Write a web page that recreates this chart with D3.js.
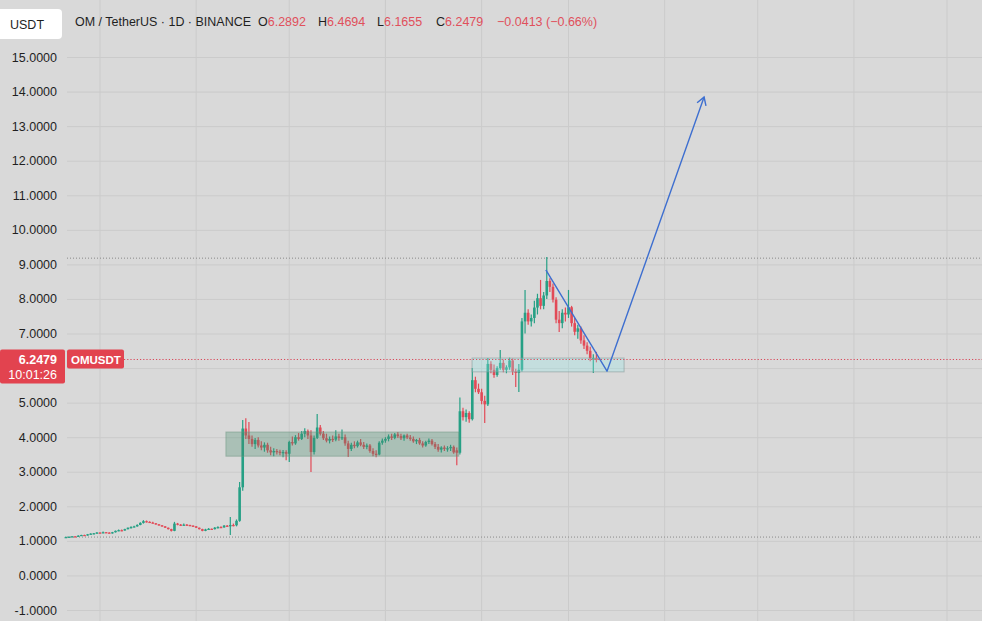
<!DOCTYPE html>
<html>
<head>
<meta charset="utf-8">
<script src="https://cdn.jsdelivr.net/npm/d3@7"></script>
<style>
  html, body { margin: 0; padding: 0; background: #d9d9d9; }
  svg { display: block; font-family: "Liberation Sans", Arial, sans-serif; }
</style>
</head>
<body>
<div id="chart"></div>
<script>
// OM / TetherUS daily candles, first one on firstDay, one row per day: [open, high, low, close]
const firstDay = "2024-09-20";
const candles = [
  // Sep 20
  [1.10,1.13,1.09,1.11],[1.11,1.13,1.10,1.12],[1.12,1.14,1.11,1.13],[1.13,1.14,1.11,1.12],[1.12,1.16,1.11,1.15],
  [1.15,1.18,1.14,1.17],[1.17,1.18,1.15,1.16],[1.16,1.20,1.15,1.19],[1.19,1.22,1.18,1.21],[1.21,1.23,1.19,1.22],
  // Sep 30
  [1.22,1.26,1.21,1.24],[1.24,1.25,1.22,1.23],[1.23,1.27,1.22,1.25],[1.25,1.26,1.23,1.24],[1.24,1.25,1.21,1.22],
  [1.22,1.26,1.21,1.25],[1.25,1.30,1.24,1.29],[1.29,1.33,1.28,1.31],[1.31,1.33,1.28,1.30],[1.30,1.35,1.29,1.34],
  // Oct 10
  [1.34,1.39,1.33,1.38],[1.38,1.42,1.36,1.40],[1.40,1.44,1.39,1.42],[1.42,1.48,1.41,1.46],[1.46,1.54,1.45,1.52],
  [1.52,1.60,1.50,1.57],[1.57,1.59,1.53,1.55],[1.55,1.57,1.52,1.53],[1.53,1.55,1.50,1.51],[1.51,1.52,1.47,1.48],
  // Oct 20
  [1.48,1.49,1.44,1.45],[1.45,1.46,1.41,1.42],[1.42,1.43,1.37,1.38],[1.38,1.39,1.33,1.34],[1.34,1.35,1.27,1.29],
  [1.29,1.55,1.28,1.50],[1.50,1.52,1.45,1.47],[1.47,1.49,1.43,1.45],[1.45,1.50,1.44,1.47],[1.47,1.49,1.44,1.46],
  // Oct 30
  [1.46,1.47,1.42,1.44],[1.44,1.45,1.40,1.42],[1.42,1.43,1.37,1.38],[1.38,1.39,1.33,1.34],[1.34,1.35,1.28,1.29],
  [1.29,1.35,1.28,1.33],[1.33,1.37,1.32,1.35],[1.35,1.36,1.32,1.34],[1.34,1.40,1.33,1.38],[1.38,1.42,1.36,1.40],
  // Nov 9
  [1.40,1.42,1.37,1.39],[1.39,1.46,1.38,1.44],[1.44,1.46,1.40,1.42],[1.42,1.69,1.17,1.46],[1.46,1.50,1.42,1.45],
  [1.45,1.62,1.42,1.58],[1.58,2.70,1.55,2.55],[2.55,4.50,2.45,4.25],[4.25,4.55,3.95,4.05],[4.05,4.44,3.80,3.95],
  // Nov 19
  [3.95,4.05,3.72,3.80],[3.80,3.98,3.66,3.92],[3.92,4.00,3.70,3.76],[3.76,3.88,3.62,3.70],[3.70,3.85,3.58,3.78],
  [3.78,3.84,3.55,3.62],[3.62,3.72,3.48,3.56],[3.56,3.68,3.45,3.60],[3.60,3.66,3.50,3.58],[3.58,3.64,3.48,3.55],
  // Nov 29
  [3.55,3.63,3.42,3.57],[3.57,3.62,3.33,3.52],[3.52,3.90,3.28,3.86],[3.86,4.02,3.76,3.82],[3.82,4.06,3.78,4.00],
  [4.00,4.12,3.90,3.95],[3.95,4.18,3.92,4.10],[4.10,4.26,4.00,4.18],[4.18,4.22,3.95,4.05],[4.05,4.20,2.99,3.57],
  // Dec 9
  [3.57,4.05,3.50,3.98],[3.98,4.67,3.95,4.28],[4.28,4.35,4.05,4.10],[4.10,4.18,3.92,3.97],[3.97,4.10,3.85,3.90],
  [3.90,4.02,3.82,3.95],[3.95,4.05,3.86,3.93],[3.93,4.20,3.88,4.02],[4.02,4.10,3.90,3.98],[3.98,4.22,3.92,4.00],
  // Dec 19
  [4.00,4.08,3.75,3.82],[3.82,3.90,3.43,3.66],[3.66,3.84,3.60,3.78],[3.78,3.88,3.68,3.74],[3.74,3.90,3.70,3.85],
  [3.85,3.95,3.74,3.78],[3.78,3.86,3.66,3.72],[3.72,3.82,3.65,3.76],[3.76,3.80,3.55,3.60],[3.60,3.68,3.45,3.52],
  // Dec 29
  [3.52,3.62,3.42,3.50],[3.50,3.88,3.48,3.84],[3.84,3.96,3.78,3.90],[3.90,4.00,3.84,3.95],[3.95,4.08,3.88,4.02],
  [4.02,4.10,3.92,3.98],[3.98,4.12,3.94,4.08],[4.08,4.15,3.98,4.03],[4.03,4.10,3.92,3.97],[3.97,4.08,3.90,4.05],
  // Jan 8
  [4.05,4.10,3.95,3.99],[3.99,4.06,3.90,3.95],[3.95,4.02,3.84,3.88],[3.88,3.95,3.80,3.92],[3.92,3.98,3.78,3.82],
  [3.82,3.88,3.70,3.76],[3.76,3.90,3.72,3.86],[3.86,3.96,3.80,3.90],[3.90,3.95,3.76,3.80],[3.80,3.86,3.66,3.72],
  // Jan 18
  [3.72,3.80,3.58,3.64],[3.64,3.74,3.56,3.70],[3.70,3.76,3.60,3.66],[3.66,3.74,3.58,3.68],[3.68,3.78,3.60,3.72],
  [3.72,3.76,3.52,3.56],[3.62,3.70,3.19,3.55],[3.55,5.15,3.50,4.75],[4.75,4.85,4.48,4.58],[4.58,4.80,4.45,4.70],
  // Jan 28
  [4.70,4.75,4.42,4.52],[4.52,6.00,4.48,5.65],[5.65,5.75,5.30,5.40],[5.40,5.55,5.25,5.30],[5.30,5.40,4.95,5.05],
  [5.05,5.20,4.41,4.95],[4.95,6.29,4.90,6.12],[6.12,6.20,5.85,5.95],[5.95,6.10,5.72,5.80],[5.80,6.05,5.75,6.00],
  // Feb 7
  [6.00,6.52,5.95,6.15],[6.15,6.25,5.88,5.95],[5.95,6.08,5.85,6.02],[6.02,6.30,5.95,6.22],[6.22,6.28,5.80,5.90],
  [5.90,5.98,5.45,5.86],[5.86,6.12,5.31,5.95],[5.95,7.45,5.90,7.35],[7.35,8.26,7.00,7.60],[7.60,7.70,7.25,7.35],
  // Feb 17
  [7.35,7.55,7.20,7.45],[7.45,7.95,7.30,7.75],[7.75,8.15,7.55,8.02],[8.02,8.55,7.70,7.80],[7.80,8.20,7.70,8.10],
  [8.10,9.21,8.00,8.52],[8.52,8.60,8.20,8.35],[8.35,8.45,7.90,7.98],[7.98,8.05,7.30,7.40],[7.40,7.65,7.04,7.30],
  // Feb 27
  [7.30,7.70,7.15,7.60],[7.60,7.75,7.35,7.55],[7.55,8.26,7.45,7.76],[7.76,7.80,7.20,7.30],[7.30,7.45,6.95,7.05],
  [7.05,7.25,6.85,7.15],[7.15,7.20,6.70,6.80],[6.80,6.95,6.55,6.65],[6.65,6.75,6.40,6.50],[6.50,6.62,6.20,6.28],
  // Mar 9
  [6.28,6.40,5.86,6.29],[6.2892,6.4694,6.1655,6.2479]
];

const priceTicks = [15, 14, 13, 12, 11, 10, 9, 8, 7, 6, 5, 4, 3, 2, 1, 0, -1];
const lastPrice = 6.2479;
const countdown = "10:01:26";
const symbol = "OMUSDT";
const headerTitle = "OM / TetherUS · 1D · BINANCE";
const headerQuote = [["O", "6.2892"], ["H", "6.4694"], ["L", "6.1655"], ["C", "6.2479"]];
const headerChange = "−0.0413 (−0.66%)";

// drawings on the chart: [date, price]
const levelLines = [9.18, 1.11];
const rangeBox = [["2024-11-10T14:00", 4.15], ["2025-01-24T16:00", 3.45]];
const supportBox = [["2025-01-28T22:00", 6.29], ["2025-03-18T22:00", 5.89]];
const projection = [["2025-02-21T17:00", 8.84], ["2025-03-13T10:00", 5.91], ["2025-04-13T17:00", 13.84]];


function CandleChart(data, {
  width = 982,
  height = 621,
  left = 67, // where the plot starts (axis labels sit left of it)
  up = "#26a085",
  down = "#e24a57",
  bg = "#d9d9d9",
  grid = "#cbcbcb",
} = {}) {
  const parse = d3.utcParse("%Y-%m-%d");
  const parseT = d3.utcParse("%Y-%m-%dT%H:%M");
  const day0 = parse(firstDay);
  const rows = data.map((d, i) => ({date: d3.utcDay.offset(day0, i), o: d[0], h: d[1], l: d[2], c: d[3]}));

  // one month is ~95px wide in the reference
  const x = d3.scaleUtc()
    .domain([new Date(Date.UTC(2024, 9, 1)), new Date(Date.UTC(2025, 6, 1))])
    .range([100, 947]);
  const y = d3.scaleLinear().domain([-1, 15]).range([610, 57]);
  const bw = 2.6; // body width

  const svg = d3.create("svg")
    .attr("width", width)
    .attr("height", height)
    .attr("viewBox", [0, 0, width, height]);

  svg.append("rect").attr("width", width).attr("height", height).attr("fill", bg);

  // month grid
  svg.append("g")
    .selectAll("line")
    .data(d3.utcMonth.range(x.invert(left), x.invert(width)))
    .join("line")
    .attr("x1", d => x(d)).attr("x2", d => x(d))
    .attr("y1", 0).attr("y2", height)
    .attr("stroke", grid);

  // price grid + labels
  const yAxis = svg.append("g")
    .attr("transform", `translate(${left},0)`)
    .call(d3.axisLeft(y).tickValues(priceTicks).tickSize(-(width - left)).tickPadding(10).tickFormat(d => d.toFixed(4)));
  yAxis.select(".domain").remove();
  yAxis.selectAll(".tick line").attr("stroke", grid);
  yAxis.selectAll(".tick text")
    .attr("fill", "#1f1f1f")
    .attr("font-size", 12.5)
    .attr("font-family", "Liberation Sans, Arial, sans-serif");
  // the label under the last-price tag is hidden
  yAxis.selectAll(".tick text").filter(d => Math.abs(y(d) - y(lastPrice)) < 14).remove();

  // horizontal levels
  svg.append("g")
    .selectAll("line")
    .data(levelLines)
    .join("line")
    .attr("x1", left).attr("x2", width)
    .attr("y1", d => y(d)).attr("y2", d => y(d))
    .attr("stroke", "#8a8a8a")
    .attr("stroke-dasharray", "1,2");

  // candles
  const g = svg.append("g");
  const candle = g.selectAll("g")
    .data(rows)
    .join("g")
    .attr("fill", d => d.c >= d.o ? up : down)
    .attr("stroke", d => d.c >= d.o ? up : down);
  candle.append("line")
    .attr("x1", d => x(d.date)).attr("x2", d => x(d.date))
    .attr("y1", d => y(d.h)).attr("y2", d => y(d.l))
    .attr("stroke-width", 1.2);
  candle.append("rect")
    .attr("x", d => x(d.date) - bw / 2)
    .attr("width", bw)
    .attr("y", d => y(Math.max(d.o, d.c)))
    .attr("height", d => Math.max(1.2, Math.abs(y(d.o) - y(d.c))))
    .attr("stroke", "none");

  // rectangles drawn over the candles
  const box = (b, fill, stroke) => svg.append("rect")
    .attr("x", x(parseT(b[0][0])))
    .attr("y", y(b[0][1]))
    .attr("width", x(parseT(b[1][0])) - x(parseT(b[0][0])))
    .attr("height", y(b[1][1]) - y(b[0][1]))
    .attr("fill", fill)
    .attr("stroke", stroke);
  box(rangeBox, "rgba(70,140,110,0.32)", "rgba(110,150,130,0.5)");
  box(supportBox, "rgba(150,235,235,0.3)", "rgba(130,150,150,0.55)");

  // current price line
  svg.append("line")
    .attr("x1", left + 57).attr("x2", width)
    .attr("y1", y(lastPrice)).attr("y2", y(lastPrice))
    .attr("stroke", "#d8485a")
    .attr("stroke-dasharray", "1.2,2");

  // projected path with an open arrow head
  const pts = projection.map(d => [x(parseT(d[0])), y(d[1])]);
  svg.append("path")
    .attr("d", d3.line()(pts))
    .attr("fill", "none")
    .attr("stroke", "#3e6fd0")
    .attr("stroke-width", 1.4)
    .attr("stroke-linejoin", "round");
  const [p1, p2] = pts.slice(-2);
  const a = Math.atan2(p2[1] - p1[1], p2[0] - p1[0]);
  const len = 9, spread = 0.55;
  svg.append("path")
    .attr("d", d3.line()([
      [p2[0] - len * Math.cos(a - spread), p2[1] - len * Math.sin(a - spread)],
      p2,
      [p2[0] - len * Math.cos(a + spread), p2[1] - len * Math.sin(a + spread)]
    ]))
    .attr("fill", "none")
    .attr("stroke", "#3e6fd0")
    .attr("stroke-width", 1.4);

  // price label on the axis
  const py = y(lastPrice);
  svg.append("rect").attr("x", 0).attr("y", py - 10).attr("width", 65).attr("height", 34)
    .attr("rx", 2).attr("fill", "#e2434f");
  svg.append("text").attr("x", 57).attr("y", py + 4.5).attr("text-anchor", "end")
    .attr("fill", "#fff").attr("font-size", 12.5).attr("font-weight", "bold").text(lastPrice.toFixed(4));
  svg.append("text").attr("x", 57).attr("y", py + 19.5).attr("text-anchor", "end")
    .attr("fill", "#fff").attr("font-size", 12.5).text(countdown);
  svg.append("rect").attr("x", left).attr("y", py - 10).attr("width", 57).attr("height", 19)
    .attr("rx", 2).attr("fill", "#e2434f");
  svg.append("text").attr("x", left + 4).attr("y", py + 4.5)
    .attr("fill", "#fff").attr("font-size", 11.5).attr("font-weight", "bold").text(symbol);

  // header
  svg.append("rect").attr("x", -4).attr("y", 9).attr("width", 66).attr("height", 30)
    .attr("rx", 4).attr("fill", "#fff");
  svg.append("text").attr("x", 10).attr("y", 28.5).attr("fill", "#1f1f1f").attr("font-size", 12.5).text("USDT");

  const head = svg.append("text").attr("y", 26).attr("font-size", 12.5);
  head.append("tspan").attr("x", 75).attr("fill", "#1f1f1f")
    .attr("textLength", 176).attr("lengthAdjust", "spacingAndGlyphs").text(headerTitle);
  const qx = [258, 318, 377, 436];
  headerQuote.forEach(([k, v], i) => {
    head.append("tspan").attr("x", qx[i]).attr("fill", "#1f1f1f").text(k);
    head.append("tspan").attr("fill", "#e0505c").text(v);
  });
  head.append("tspan").attr("x", 497).attr("fill", "#e0505c").text(headerChange);

  return svg.node();
}

const chart = CandleChart(candles);
document.getElementById("chart").append(chart);
</script>
</body>
</html>
